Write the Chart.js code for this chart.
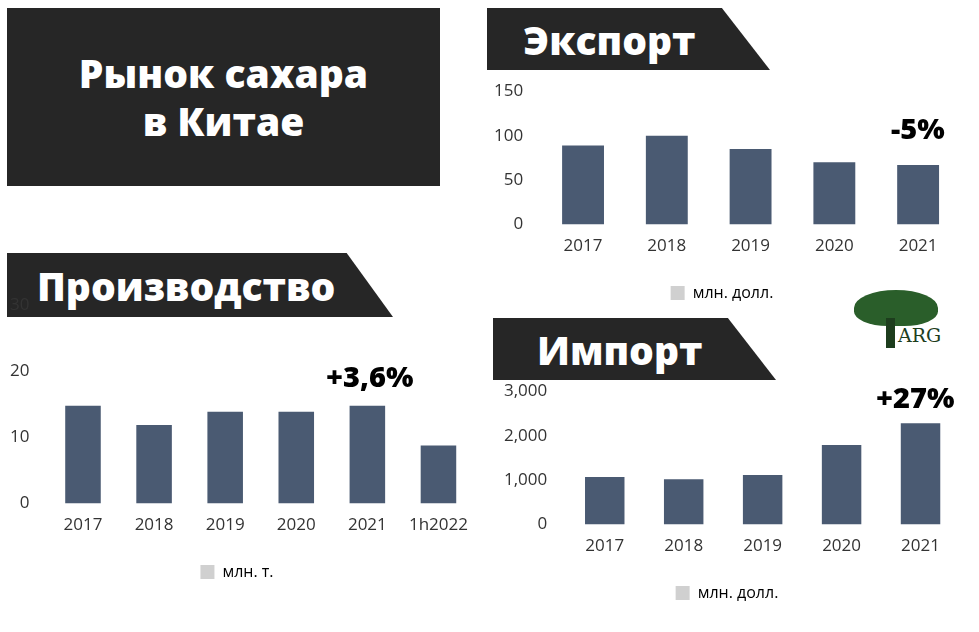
<!DOCTYPE html>
<html>
<head>
<meta charset="utf-8">
<script src="https://cdn.jsdelivr.net/npm/chart.js@4"></script>
<style>
  body { margin:0; width:979px; height:632px; background:#fff; position:relative; overflow:hidden; font-family:"Open Sans", sans-serif; }
  .box { position:absolute; background:#262626; color:#fff; font-weight:800; }
  .banner { position:absolute; background:#262626; color:#fff; font-weight:800; font-size:39px; display:flex; align-items:center; }
  .pct { position:absolute; font-weight:800; font-size:29px; color:#000; }
  .cw { position:absolute; }
</style>
</head>
<body>
<div class="box" style="left:7px;top:8px;width:433px;height:178px;display:flex;align-items:center;justify-content:center;text-align:center;font-size:39px;line-height:48px;">Рынок сахара<br>в Китае</div>
<div class="banner" style="left:487px;top:8px;width:283px;height:62px;padding-left:36px;box-sizing:border-box;clip-path:polygon(0 0,83% 0,100% 100%,0 100%);">Экспорт</div>
<div class="banner" style="left:7px;top:253px;width:386px;height:64px;padding-left:30px;box-sizing:border-box;clip-path:polygon(0 0,88% 0,100% 100%,0 100%);">Производство</div>
<div class="banner" style="left:493px;top:318px;width:283px;height:62px;padding-left:44px;box-sizing:border-box;clip-path:polygon(0 0,83% 0,100% 100%,0 100%);">Импорт</div>

<div style="position:absolute;left:848px;top:288px;width:96px;height:64px;">
  <div style="position:absolute;left:6px;top:2px;width:84px;height:36px;border-radius:50% 50% 40% 40%;background:#2a5e2a;"></div>
  <div style="position:absolute;left:38px;top:30px;width:9px;height:30px;background:#1d3d1d;"></div>
  <div style="position:absolute;left:50px;top:36px;font-family:'DejaVu Serif',serif;font-size:19px;color:#1d3d1d;">ARG</div>
</div>

<div class="cw" style="left:0;top:285px;width:480px;height:305px;"><canvas id="prod"></canvas></div>
<div class="cw" style="left:480px;top:71px;width:480px;height:240px;"><canvas id="exp"></canvas></div>
<div class="cw" style="left:480px;top:371px;width:480px;height:240px;"><canvas id="imp"></canvas></div>

<div class="pct" style="left:326px;top:356px;">+3,6%</div>
<div class="pct" style="left:891px;top:108px;">-5%</div>
<div class="pct" style="left:876px;top:377px;">+27%</div>

<script>
const prodLabels = ["2017","2018","2019","2020","2021","1h2022"];
const prodValues = [14.8, 11.9, 13.9, 13.9, 14.8, 8.8];
const expLabels = ["2017","2018","2019","2020","2021"];
const expValues = [89, 100, 85, 70, 67];
const impLabels = ["2017","2018","2019","2020","2021"];
const impValues = [1070, 1020, 1115, 1790, 2280];

const barColor = "#4a5a72";
const tickFont = { family:"Open Sans", size:17 };

function makeChart(id, labels, values, name, yMax, step, pad) {
  return new Chart(document.getElementById(id), {
    type: "bar",
    data: { labels, datasets: [{ label: name, data: values, backgroundColor: barColor, barPercentage: 0.5, categoryPercentage: 1 }] },
    options: {
      responsive: true, maintainAspectRatio: false, animation: false,
      layout: { padding: pad },
      plugins: {
        tooltip: { enabled: false },
        legend: { position: "bottom", labels: { color:"#595959", font:{ family:"Open Sans", size:16 }, boxWidth:14, boxHeight:14, padding:26, generateLabels: c => [{ text: name, fillStyle:"#d0d0d0", strokeStyle:"#d0d0d0", lineWidth:0 }] } }
      },
      scales: {
        x: { grid: { display:false }, border: { display:false }, ticks: { color:"#333", font: tickFont, maxRotation:0 } },
        y: { min:0, max:yMax, grid: { display:false }, border: { display:false },
             ticks: { stepSize: step, color:"#333", font: tickFont, padding: 10,
                      callback: v => v.toLocaleString("en-US") } }
      }
    }
  });
}

makeChart("prod", prodLabels, prodValues, "млн. т.", 30, 10, { left: 0, right: 6, top: 2, bottom: 0 });
makeChart("exp", expLabels, expValues, "млн. долл.", 150, 50, { left: 4, right: 0, top: 2, bottom: 0 });
makeChart("imp", impLabels, impValues, "млн. долл.", 3000, 1000, { left: 14, right: 0, top: 2, bottom: 0 });
</script>
</body>
</html>
